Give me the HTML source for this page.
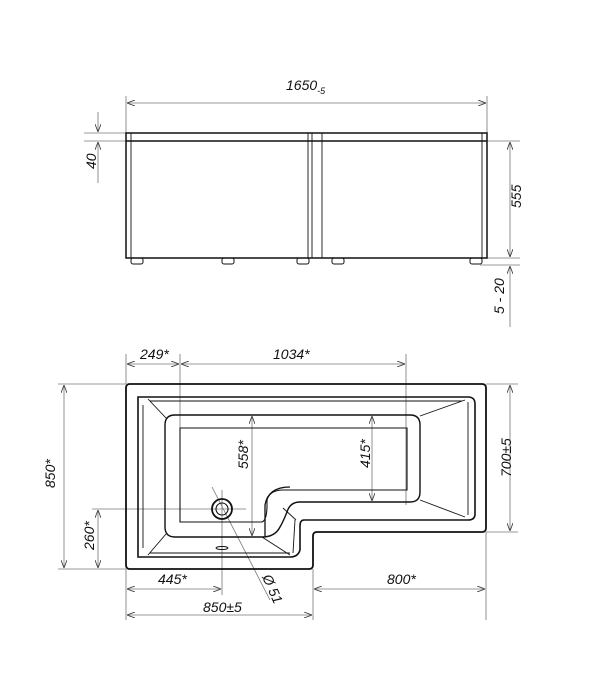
<!DOCTYPE html>
<html><head><meta charset="utf-8"><style>
html,body{margin:0;padding:0;background:#fff;}
svg{display:block}
text{font-family:"Liberation Sans",sans-serif;font-style:italic;font-size:14px;fill:#111;}
</style></head><body>
<svg width="600" height="693" viewBox="0 0 600 693" xmlns="http://www.w3.org/2000/svg">
<defs>
<marker id="a" markerWidth="8" markerHeight="6" refX="8" refY="3" orient="auto-start-reverse" markerUnits="userSpaceOnUse">
<path d="M0,0 L8,3 L0,6" fill="none" stroke="#444" stroke-width="0.9"/></marker>
</defs>
<g stroke="#777" stroke-width="0.8" fill="none">
<line x1="126" y1="96" x2="126" y2="133"/><line x1="487" y1="96" x2="487" y2="133"/>
<line x1="127" y1="103" x2="486" y2="103" marker-start="url(#a)" marker-end="url(#a)"/>
<line x1="84" y1="133" x2="126" y2="133"/><line x1="84" y1="141" x2="126" y2="141"/>
<line x1="98" y1="112" x2="98" y2="132" marker-end="url(#a)"/>
<line x1="98" y1="142" x2="98" y2="183" marker-start="url(#a)"/>
<line x1="487" y1="141" x2="520" y2="141"/><line x1="487" y1="258" x2="520" y2="258"/><line x1="480" y1="265" x2="520" y2="265"/>
<line x1="510" y1="142" x2="510" y2="257" marker-start="url(#a)" marker-end="url(#a)"/>
<line x1="510" y1="266" x2="510" y2="327" marker-start="url(#a)"/>
<line x1="126" y1="354" x2="126" y2="384"/><line x1="180" y1="354" x2="180" y2="432"/><line x1="406" y1="354" x2="406" y2="505"/>
<line x1="127" y1="364" x2="179" y2="364" marker-start="url(#a)" marker-end="url(#a)"/>
<line x1="181" y1="364" x2="405" y2="364" marker-start="url(#a)" marker-end="url(#a)"/>
<line x1="58" y1="384" x2="126" y2="384"/><line x1="58" y1="569" x2="126" y2="569"/>
<line x1="64" y1="385" x2="64" y2="568" marker-start="url(#a)" marker-end="url(#a)"/>
<line x1="92" y1="509" x2="246" y2="509"/>
<line x1="98" y1="510" x2="98" y2="568" marker-start="url(#a)" marker-end="url(#a)"/>
<line x1="486" y1="384" x2="518" y2="384"/><line x1="486" y1="532" x2="518" y2="532"/>
<line x1="510" y1="385" x2="510" y2="531" marker-start="url(#a)" marker-end="url(#a)"/>
<line x1="222" y1="490" x2="222" y2="595"/>
<line x1="126" y1="569" x2="126" y2="620"/><line x1="313" y1="569" x2="313" y2="620"/><line x1="486" y1="532" x2="486" y2="620"/>
<line x1="127" y1="589" x2="221" y2="589" marker-start="url(#a)" marker-end="url(#a)"/>
<line x1="314" y1="589" x2="485" y2="589" marker-start="url(#a)" marker-end="url(#a)"/>
<line x1="127" y1="615" x2="312" y2="615" marker-start="url(#a)" marker-end="url(#a)"/>
<line x1="252" y1="416" x2="252" y2="536" marker-start="url(#a)" marker-end="url(#a)"/>
<line x1="372" y1="416" x2="372" y2="501" marker-start="url(#a)" marker-end="url(#a)"/>
<line x1="212" y1="487" x2="270" y2="600"/>
</g>
<g stroke="#111" stroke-width="1.5" fill="none">
<rect x="126" y="133" width="361" height="125"/>
<line x1="126" y1="141" x2="487" y2="141"/>
<g stroke-width="0.9"><line x1="131" y1="133" x2="131" y2="258"/><line x1="482" y1="133" x2="482" y2="258"/>
<line x1="308" y1="133" x2="308" y2="258"/><line x1="312" y1="133" x2="312" y2="258"/><line x1="322" y1="133" x2="322" y2="258"/></g>
<g stroke-width="1"><rect x="131" y="258" width="12" height="6" rx="2"/><rect x="222" y="258" width="12" height="6" rx="2"/><rect x="297" y="258" width="12" height="6" rx="2"/><rect x="332" y="258" width="12" height="6" rx="2"/><rect x="470" y="258" width="12" height="6" rx="2"/></g>
</g>
<g stroke="#111" fill="none">
<path d="M130,384 H482 Q486,384 486,388 V528 Q486,532 482,532 H317 Q313,532 313,536 V565 Q313,569 309,569 H130 Q126,569 126,565 V388 Q126,384 130,384 Z" stroke-width="1.8"/>
<path d="M138,397 H468 Q475,397 475,404 V514 Q475,520 468,520 H304 Q300,520 300,526 V550 Q298,557 290,557 H138 Z" stroke-width="1.6"/>
<path d="M175,415 H410 Q420,415 420,425 V492 Q420,502 410,502 H300 Q290,502 287,512 Q283,522 280,527 Q275,537 262,537 H175 Q165,537 165,527 V425 Q165,415 175,415 Z" stroke-width="1.4"/>
<path d="M180,428 H407 V490 H283 Q270,490 267,500 V505 Q267,520 262,522 H180 Z" stroke-width="1.1"/>
<path d="M265,537 V505 Q268,487 290,487" stroke-width="1.3"/>
<g stroke-width="0.9">
<line x1="148" y1="399" x2="166" y2="418"/><line x1="143" y1="405" x2="143" y2="548"/><line x1="148" y1="555" x2="166" y2="534"/>
<line x1="465" y1="400" x2="420" y2="416"/><line x1="465" y1="517" x2="420" y2="500"/><line x1="468" y1="402" x2="468" y2="515"/>
<line x1="295" y1="520" x2="293" y2="553"/><line x1="283" y1="508" x2="296" y2="520"/><line x1="262" y1="537" x2="290" y2="555"/>
<line x1="150" y1="401" x2="462" y2="401"/><line x1="150" y1="553" x2="290" y2="553"/>
</g>
<circle cx="222" cy="509" r="10" stroke-width="1.8"/><circle cx="222" cy="509" r="6" stroke-width="1.1"/>
<ellipse cx="222" cy="548" rx="6" ry="1.5" stroke-width="0.9"/>
</g>
<text x="286" y="90">1650<tspan font-size="9" dy="4">-5</tspan></text>
<text transform="translate(96,169) rotate(-90)" font-style="normal">40</text>
<text transform="translate(521,208) rotate(-90)" font-style="normal">555</text>
<text transform="translate(504,314) rotate(-90)" font-style="normal">5 - 20</text>
<text x="140" y="359">249*</text>
<text x="273" y="359">1034*</text>
<text transform="translate(55,488) rotate(-90)">850*</text>
<text transform="translate(94,550) rotate(-90)">260*</text>
<text transform="translate(511,477) rotate(-90)">700±5</text>
<text transform="translate(248,469) rotate(-90)">558*</text>
<text transform="translate(370,468) rotate(-90)">415*</text>
<text x="158" y="584">445*</text>
<text x="387" y="584">800*</text>
<text x="203" y="612">850±5</text>
<text transform="translate(262,577) rotate(66)">Ø 51</text>
</svg>
</body></html>
